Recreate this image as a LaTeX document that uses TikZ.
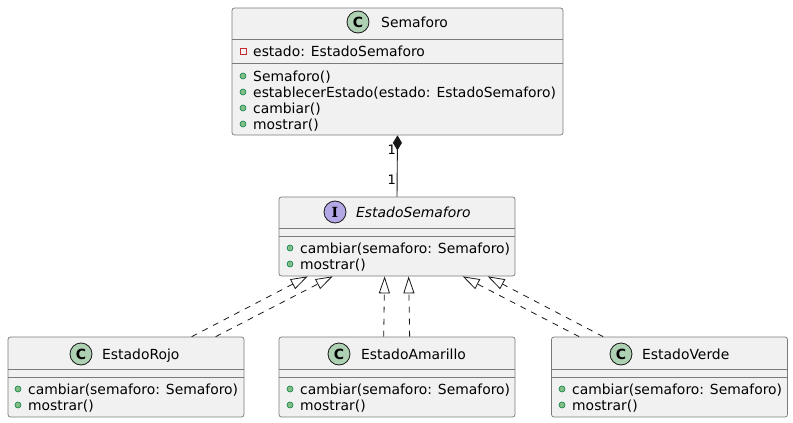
\documentclass[tikz,border=0pt]{standalone}
\usepackage{fontspec}
\setmainfont{DejaVu Sans}
\newfontfamily\serifbold{DejaVu Serif}
\usetikzlibrary{arrows.meta,calc}
\definecolor{boxfill}{HTML}{F1F1F1}
\definecolor{boxline}{HTML}{7A7A7A}
\definecolor{ink}{HTML}{181818}
\definecolor{cfill}{HTML}{ADD1B2}
\definecolor{ifill}{HTML}{B4A7E5}
\definecolor{pubfill}{HTML}{84BE84}
\definecolor{publine}{HTML}{038048}
\definecolor{privline}{HTML}{C82930}
\tikzset{
  umlbox/.style={draw=boxline, fill=boxfill, line width=0.7pt, rounded corners=2.5pt, inner sep=0pt},
  sepline/.style={draw=boxline, line width=0.7pt},
  txt/.style={anchor=base west, inner sep=0pt, font=\fontsize{13.9}{16}\selectfont, text=black},
  ttl/.style={anchor=base west, inner sep=0pt, font=\fontsize{13.9}{16}\selectfont, text=black},
  badge/.style={circle, draw=ink, line width=0.8pt, minimum size=22pt, inner sep=0pt},
  pub/.style={circle, draw=publine, fill=pubfill, line width=0.6pt, minimum size=6pt, inner sep=0pt},
  priv/.style={rectangle, draw=privline, line width=0.7pt, minimum size=6pt, inner sep=0pt},
  realize/.style={draw=ink, line width=0.8pt, dash pattern=on 6pt off 6pt, -{Triangle[open, length=17pt, width=11pt, line width=0.8pt]}},
  compose/.style={draw=ink, line width=0.9pt, -{Diamond[length=15pt, width=9pt]}},
  mult/.style={anchor=east, inner sep=0pt, font=\fontsize{13}{15}\selectfont, text=black}
}
\begin{document}
\begin{tikzpicture}[x=1pt, y=-1pt]
\useasboundingbox (0,0) rectangle (793,423);
% ---------- Semaforo ----------
\node[umlbox, minimum width=331pt, minimum height=127pt] (sem) at (397.5,71.5) {};
\draw[sepline] (232,39) -- (563,39);
\draw[sepline] (232,63) -- (563,63);
\node[badge, fill=cfill] (semC) at (358,22) {\fontsize{14}{16}\selectfont\bfseries C};
\node[ttl] (semT) at (381,27.5) {Semaforo};
\node[priv] (semM1) at (243,51) {};
\node[txt] (semA1) at (253,56) {estado: EstadoSemaforo};
\node[pub] (semM2) at (243,76) {};
\node[txt] (semO1) at (253,81) {Semaforo()};
\node[pub] (semM3) at (243,92) {};
\node[txt] (semO2) at (253,97) {establecerEstado(estado: EstadoSemaforo)};
\node[pub] (semM4) at (243,108) {};
\node[txt] (semO3) at (253,113) {cambiar()};
\node[pub] (semM5) at (243,124) {};
\node[txt] (semO4) at (253,129) {mostrar()};
% ---------- EstadoSemaforo ----------
\node[umlbox, minimum width=236pt, minimum height=79pt] (est) at (397,236.5) {};
\draw[sepline] (279,228) -- (515,228);
\draw[sepline] (279,236) -- (515,236);
\node[badge, fill=ifill] (estI) at (335,212) {\fontsize{14}{16}\selectfont\serifbold\bfseries I};
\node[ttl] (estT) at (356,217.5) {\itshape EstadoSemaforo};
\node[pub] (estM1) at (290,248) {};
\node[txt] (estO1) at (300,253) {cambiar(semaforo: Semaforo)};
\node[pub] (estM2) at (290,264) {};
\node[txt] (estO2) at (300,269) {mostrar()};
% ---------- EstadoRojo ----------
\node[umlbox, minimum width=236pt, minimum height=80pt] (rojo) at (126,377) {};
\draw[sepline] (8,369) -- (244,369);
\draw[sepline] (8,377) -- (244,377);
\node[badge, fill=cfill] (rojoC) at (81,354) {\fontsize{14}{16}\selectfont\bfseries C};
\node[ttl] (rojoT) at (102,359.5) {EstadoRojo};
\node[pub] (rojoM1) at (18,389) {};
\node[txt] (rojoO1) at (28,394) {cambiar(semaforo: Semaforo)};
\node[pub] (rojoM2) at (18,405) {};
\node[txt] (rojoO2) at (28,410) {mostrar()};
% ---------- EstadoAmarillo ----------
\node[umlbox, minimum width=236pt, minimum height=80pt] (amar) at (397,377) {};
\draw[sepline] (279,369) -- (515,369);
\draw[sepline] (279,377) -- (515,377);
\node[badge, fill=cfill] (amarC) at (339,354) {\fontsize{14}{16}\selectfont\bfseries C};
\node[ttl] (amarT) at (361,359.5) {EstadoAmarillo};
\node[pub] (amarM1) at (290,389) {};
\node[txt] (amarO1) at (300,394) {cambiar(semaforo: Semaforo)};
\node[pub] (amarM2) at (290,405) {};
\node[txt] (amarO2) at (300,410) {mostrar()};
% ---------- EstadoVerde ----------
\node[umlbox, minimum width=236pt, minimum height=80pt] (verde) at (669.5,377) {};
\draw[sepline] (551.5,369) -- (787.5,369);
\draw[sepline] (551.5,377) -- (787.5,377);
\node[badge, fill=cfill] (verdeC) at (621,354) {\fontsize{14}{16}\selectfont\bfseries C};
\node[ttl] (verdeT) at (642,359.5) {EstadoVerde};
\node[pub] (verdeM1) at (562,389) {};
\node[txt] (verdeO1) at (572,394) {cambiar(semaforo: Semaforo)};
\node[pub] (verdeM2) at (562,405) {};
\node[txt] (verdeO2) at (572,410) {mostrar()};
% ---------- connectors ----------
\draw[compose] (est.north) -- (sem.south);
\node[mult] (m1) at (396,150) {1};
\node[mult] (m2) at (396,180) {1};
\draw[realize] ($(rojo.north west)+(184,0)$) -- ($(est.south west)+(29,0)$);
\draw[realize] ($(rojo.north west)+(208,0)$) -- ($(est.south west)+(54,0)$);
\draw[realize] ($(amar.north west)+(105,0)$) -- ($(est.south west)+(106,0)$);
\draw[realize] ($(amar.north west)+(131,0)$) -- ($(est.south west)+(130,0)$);
\draw[realize] ($(verde.north west)+(28,0)$) -- ($(est.south west)+(184,0)$);
\draw[realize] ($(verde.north west)+(52,0)$) -- ($(est.south west)+(209,0)$);
\end{tikzpicture}
\end{document}
